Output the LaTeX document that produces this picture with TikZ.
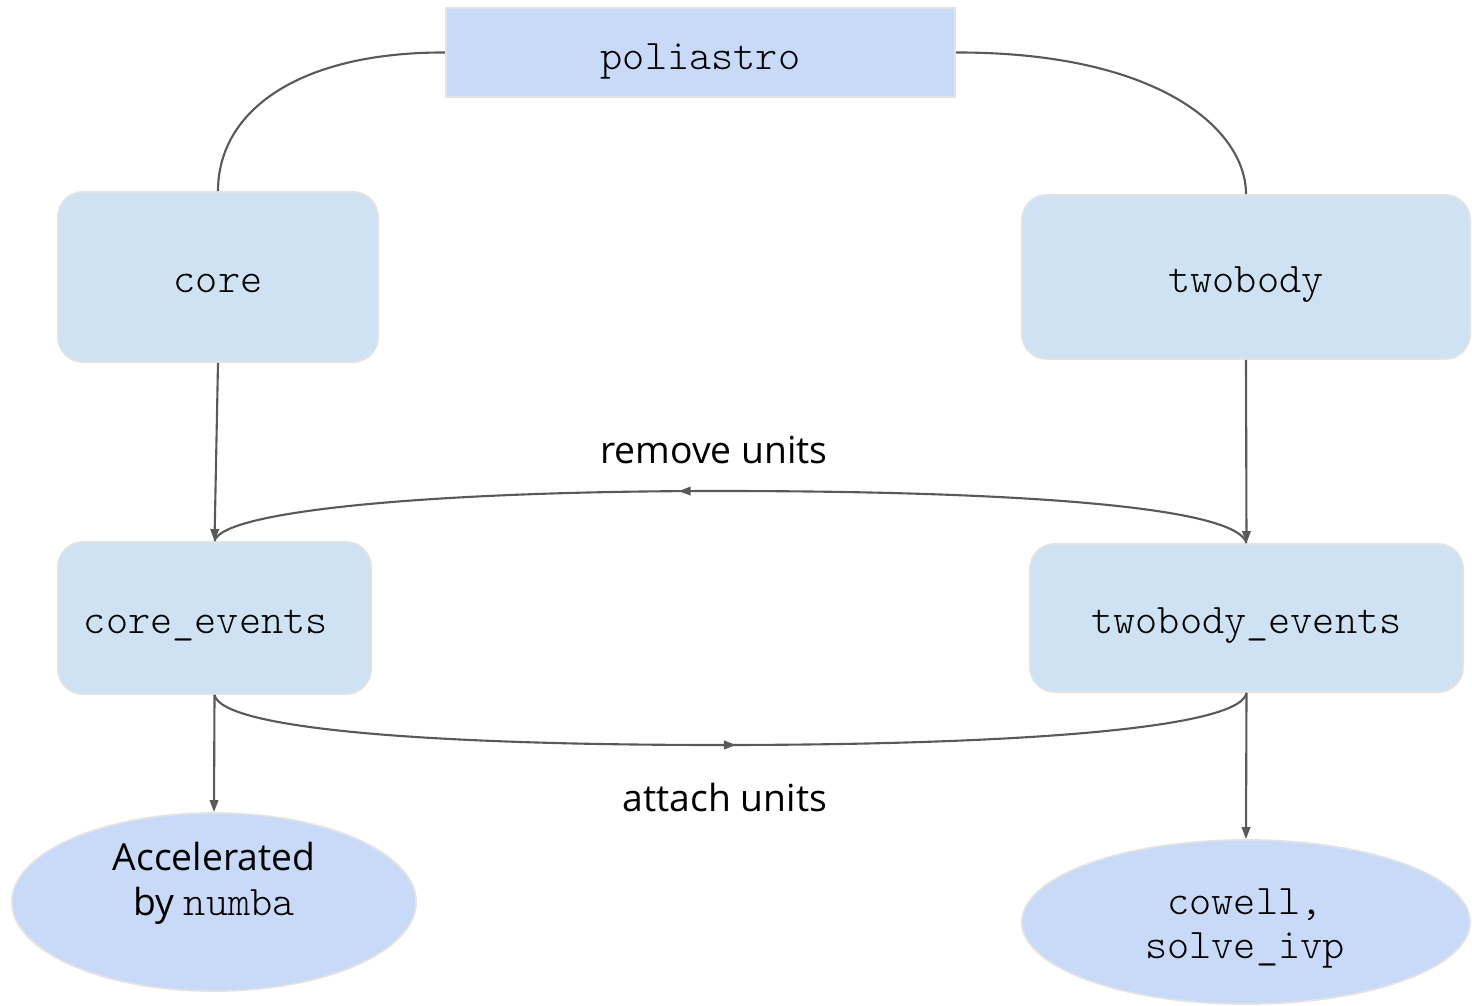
\documentclass[tikz,border=0pt]{standalone}
\usepackage{fontspec}
\setmainfont{Open Sans}
\setmonofont{Latin Modern Mono Light}
\usetikzlibrary{shapes.geometric,arrows.meta,decorations.markings}
\definecolor{boxA}{HTML}{C9DAF8}
\definecolor{boxB}{HTML}{CFE2F3}
\definecolor{edgegray}{HTML}{E3E3E3}
\definecolor{linegray}{HTML}{595959}
\newcommand{\codefont}{\fontsize{12}{12.5}\selectfont\ttfamily}
\tikzset{
  txt/.style={font=\fontsize{10.6}{12.7}\selectfont},
  mono/.style={font=\codefont},
  topbox/.style={draw=edgegray, line width=0.5pt, fill=boxA, inner sep=0pt, mono, text height=0.33cm, text depth=0cm},
  rbox/.style={draw=edgegray, line width=0.5pt, fill=boxB, rounded corners=0.25cm, inner sep=0pt, mono, text height=0.31cm, text depth=0cm},
  oval/.style={ellipse, draw=edgegray, line width=0.5pt, fill=boxA, inner sep=0pt},
  conn/.style={draw=linegray, line width=0.6pt},
  arr/.style={conn, -{Triangle[length=1.2mm,width=0.85mm]}},
  midarr/.style={conn, postaction={decorate}, decoration={markings, mark=at position #1 with {\arrow{Triangle[length=1.2mm,width=0.85mm]}}}},
}
\begin{document}
\begin{tikzpicture}[x=0.01cm,y=-0.01cm]
\useasboundingbox (0,0) rectangle (1472,1006);
% nodes
\node[topbox, minimum width=5.09cm, minimum height=0.89cm] (pol) at (700.5,52.5) {poliastro};
\node[rbox, minimum width=3.20cm, minimum height=1.70cm] (core) at (218,277) {core};
\node[rbox, minimum width=4.48cm, minimum height=1.64cm] (two) at (1246,277) {twobody};
\node[rbox, minimum width=3.13cm, minimum height=1.52cm, text width=2.61cm, align=left] (cev) at (214.5,618) {core\_events};
\node[rbox, minimum width=4.33cm, minimum height=1.48cm] (tev) at (1246.5,618) {twobody\_events};
\node[oval, minimum width=4.04cm, minimum height=1.78cm] (acc) at (214,902) {};
\node[txt, align=center, inner sep=0pt] (acctxt) at (214,883) {Accelerated\\by {\codefont numba}};
\node[oval, minimum width=4.48cm, minimum height=1.64cm] (cow) at (1246,922) {};
\node[mono, align=center, inner sep=0pt] (cowtxt) at (1245,928) {cowell,\\solve\_ivp};
% connectors
\draw[conn] (pol.west) .. controls (300,52) and (218,110) .. (core.north);
\draw[conn] (pol.east) .. controls (1160,52) and (1246,130) .. (two.north);
\draw[arr] (core.south) -- (cev.north);
\draw[arr] (two.south) -- (tev.north);
\draw[arr] (cev.south) -- (acc.north);
\draw[arr] (tev.south) -- (cow.north);
% remove units
\draw[midarr=0.55] (tev.north) .. controls (1236,505) and (1000,491) .. (720,491)
   .. controls (440,491) and (222,510) .. (cev.north);
% attach units
\draw[midarr=0.505] (cev.south) .. controls (222,730) and (440,745) .. (720,745)
   .. controls (1000,745) and (1240,730) .. (tev.south);
\node[txt] (rm) at (714,450) {remove units};
\node[txt] (at) at (725,798) {attach units};
\end{tikzpicture}
\end{document}
